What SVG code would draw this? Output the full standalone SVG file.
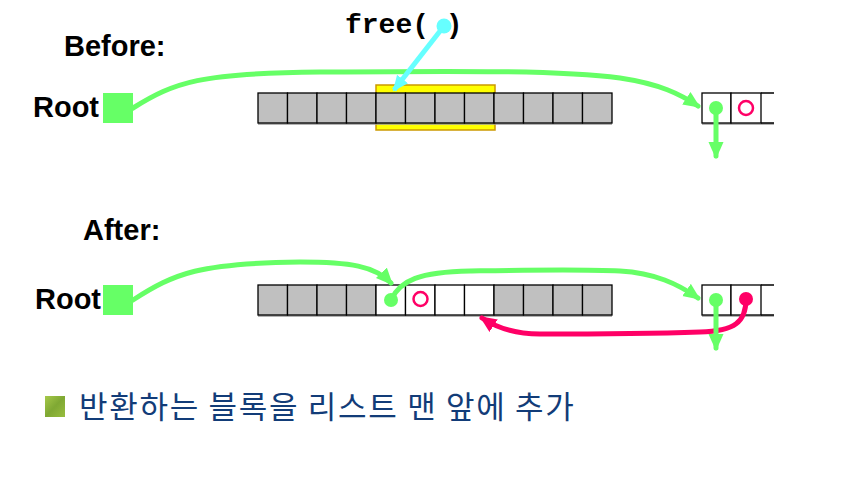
<svg xmlns="http://www.w3.org/2000/svg" width="843" height="478" viewBox="0 0 843 478">
<style>
.lbl{font-family:"Liberation Sans",Arial,sans-serif;font-weight:bold;font-size:29px;fill:#000}
.g{fill:#C0C0C0;stroke:#000;stroke-width:1.3}
.w{fill:#FFFFFF;stroke:#000;stroke-width:1.3}
.sh{stroke:#999;stroke-width:1.5;fill:none}
.root{fill:#66FF66}
.gc{fill:none;stroke:#66FF66;stroke-width:5;stroke-linecap:round}
.rc{fill:none;stroke:#FF0066;stroke-width:5;stroke-linecap:round}
.cc{fill:none;stroke:#66FFFF;stroke-width:5}
</style>
<defs>
<marker id="ag" markerUnits="userSpaceOnUse" markerWidth="20" markerHeight="16" refX="14" refY="7.5" orient="auto"><path d="M0,0 L17,7.5 L0,15 z" fill="#66FF66"/></marker>
<marker id="ar" markerUnits="userSpaceOnUse" markerWidth="20" markerHeight="16" refX="14" refY="7.5" orient="auto"><path d="M0,0 L17,7.5 L0,15 z" fill="#FF0066"/></marker>
<marker id="ac" markerUnits="userSpaceOnUse" markerWidth="20" markerHeight="16" refX="14" refY="7" orient="auto"><path d="M0,0 L16,7 L0,14 z" fill="#66FFFF"/></marker>
<linearGradient id="bul" x1="0" y1="0" x2="1" y2="1"><stop offset="0" stop-color="#A6C94A"/><stop offset="0.5" stop-color="#7FA833"/><stop offset="1" stop-color="#98BD3E"/></linearGradient>
</defs>

<g id="label-before"><text class="lbl" x="64" y="56">Before:</text></g>
<g id="root-before"><text class="lbl" x="33" y="117">Root</text><rect class="root" x="103" y="93" width="30" height="30"/></g>

<g id="free-call"><text x="345" y="33" font-family="'Liberation Mono','Courier New',monospace" font-weight="bold" font-size="28" fill="#000" xml:space="preserve">free( )</text></g>

<g id="heap-before">
<rect x="376" y="85" width="119" height="45" fill="#FFFF00" stroke="#CC9900" stroke-width="1.5"/>
<line class="sh" x1="258" y1="124" x2="612" y2="124"/>
<rect class="g" x="258" y="93" width="29.5" height="30"/>
<rect class="g" x="287.5" y="93" width="29.5" height="30"/>
<rect class="g" x="317" y="93" width="29.5" height="30"/>
<rect class="g" x="346.5" y="93" width="29.5" height="30"/>
<rect class="g" x="376" y="93" width="29.5" height="30"/>
<rect class="g" x="405.5" y="93" width="29.5" height="30"/>
<rect class="g" x="435" y="93" width="29.5" height="30"/>
<rect class="g" x="464.5" y="93" width="29.5" height="30"/>
<rect class="g" x="494" y="93" width="29.5" height="30"/>
<rect class="g" x="523.5" y="93" width="29.5" height="30"/>
<rect class="g" x="553" y="93" width="29.5" height="30"/>
<rect class="g" x="582.5" y="93" width="29.5" height="30"/>
</g>

<g id="list-before">
<line class="sh" x1="702" y1="124" x2="774" y2="124"/>
<rect class="w" x="702" y="93" width="29" height="30"/>
<rect class="w" x="731" y="93" width="30" height="30"/>
<path d="M761,93 H774 M761,123 H774" stroke="#000" stroke-width="1.3" fill="none"/>
<circle cx="746" cy="108" r="7" fill="none" stroke="#FF0066" stroke-width="2.5"/>
</g>

<g id="label-after"><text class="lbl" x="83" y="240">After:</text></g>
<g id="root-after"><text class="lbl" x="35" y="309">Root</text><rect class="root" x="103" y="285" width="30" height="30"/></g>

<g id="heap-after">
<line class="sh" x1="258" y1="316" x2="612" y2="316"/>
<rect class="g" x="258" y="285" width="29.5" height="30"/>
<rect class="g" x="287.5" y="285" width="29.5" height="30"/>
<rect class="g" x="317" y="285" width="29.5" height="30"/>
<rect class="g" x="346.5" y="285" width="29.5" height="30"/>
<rect class="w" x="376" y="285" width="29.5" height="30"/>
<rect class="w" x="405.5" y="285" width="29.5" height="30"/>
<rect class="w" x="435" y="285" width="29.5" height="30"/>
<rect class="w" x="464.5" y="285" width="29.5" height="30"/>
<rect class="g" x="494" y="285" width="29.5" height="30"/>
<rect class="g" x="523.5" y="285" width="29.5" height="30"/>
<rect class="g" x="553" y="285" width="29.5" height="30"/>
<rect class="g" x="582.5" y="285" width="29.5" height="30"/>
<circle cx="420.5" cy="299" r="7" fill="none" stroke="#FF0066" stroke-width="2.5"/>
</g>

<g id="list-after">
<line class="sh" x1="702" y1="316" x2="774" y2="316"/>
<rect class="w" x="702" y="285" width="29" height="30"/>
<rect class="w" x="731" y="285" width="30" height="30"/>
<path d="M761,285 H774 M761,315 H774" stroke="#000" stroke-width="1.3" fill="none"/>
</g>

<g id="connectors">
<path class="gc" d="M133,108 C175,82 200,73 320,72 C450,71 560,70 620,78 C660,84 680,94 698,106" marker-end="url(#ag)"/>
<line class="cc" x1="444" y1="26" x2="394" y2="90" marker-end="url(#ac)"/>
<circle cx="444" cy="26" r="7.5" fill="#66FFFF"/>
<line class="gc" x1="716" y1="108" x2="716" y2="156" marker-end="url(#ag)"/>
<circle cx="716" cy="108" r="7" fill="#66FF66"/>

<path class="gc" d="M133,300 C175,273 200,263 300,262 C350,262 375,266 391,283" marker-end="url(#ag)"/>
<path class="gc" d="M391,300 C400,280 420,272 470,271 C530,270 580,269 620,271 C655,273 678,284 698,298" marker-end="url(#ag)"/>
<circle cx="391" cy="300" r="7" fill="#66FF66"/>
<path class="rc" d="M746,299 C746,322 735,331 700,332 C640,334 560,334 540,334 C515,334 497,328 482,318" marker-end="url(#ar)"/>
<circle cx="746" cy="299" r="7" fill="#FF0066"/>
<line class="gc" x1="716" y1="300" x2="716" y2="348" marker-end="url(#ag)"/>
<circle cx="716" cy="300" r="7" fill="#66FF66"/>
</g>

<g id="bullet">
<rect x="45" y="396" width="20" height="21" fill="url(#bul)"/>
<text x="79" y="418" font-family="'Noto Sans CJK KR','Noto Sans',sans-serif" font-size="31" letter-spacing="1.7" fill="#123C78">반환하는 블록을 리스트 맨 앞에 추가</text>
</g>
</svg>
